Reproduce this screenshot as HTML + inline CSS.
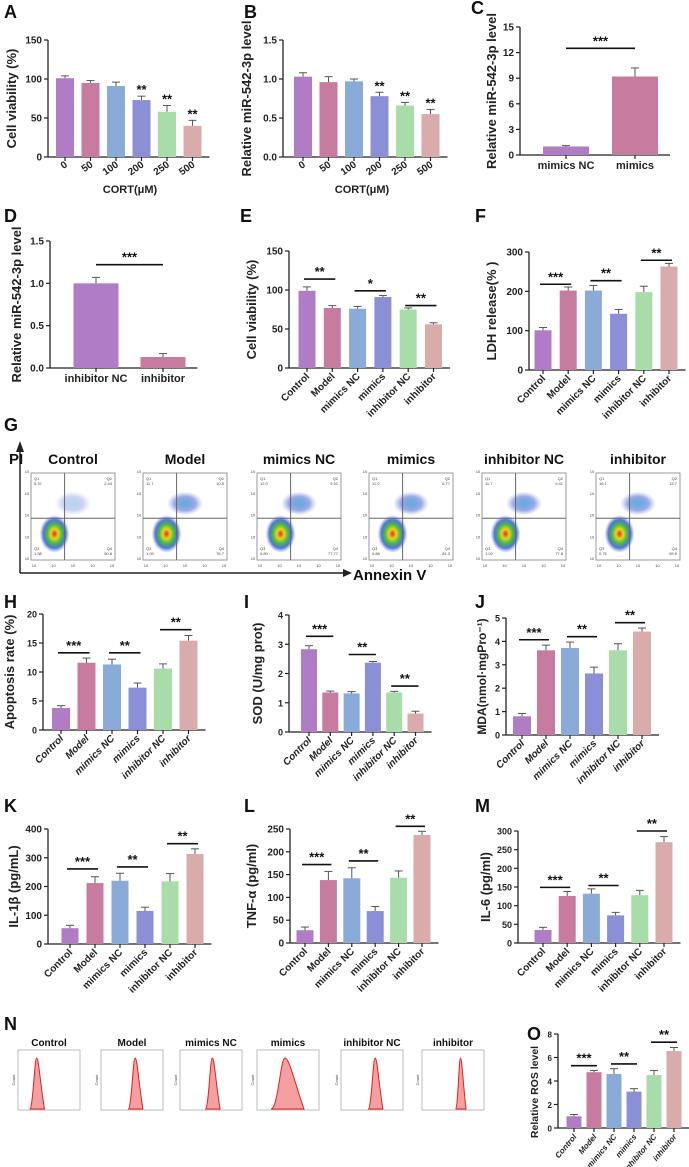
<!DOCTYPE html>
<html><head><meta charset="utf-8"><style>
html,body{margin:0;padding:0;background:#fff;}
svg{display:block;font-family:"Liberation Sans",Arial,sans-serif;}
</style></head><body>
<svg id="fig" width="689" height="1167" viewBox="0 0 689 1167" xmlns="http://www.w3.org/2000/svg"></svg>
<script>
const COLORS = ['#b07cc6','#c77b9e','#8aabd7','#8a8fd6','#a8dca8','#d9abab'];
const groups6 = ['Control','Model','mimics NC','mimics','inhibitor NC','inhibitor'];
const cortCats = ['0','50','100','200','250','500'];
// values
const valA = [101,95,91,73,58,40];   const errA = [3,3,5,5,8,7];
const valB = [1.03,0.96,0.97,0.78,0.66,0.55]; const errB = [0.05,0.07,0.03,0.05,0.04,0.06];
const catC = ['mimics NC','mimics']; const valC = [1.0,9.2]; const errC = [0.1,1.0];
const catD = ['inhibitor NC','inhibitor']; const valD = [1.0,0.13]; const errD = [0.07,0.04];
const valE = [99,77,76,91,75,56]; const errE = [5,3,3,2,2,2];
const valF = [101,202,202,143,198,263]; const errF = [7,9,13,11,15,8];
const valH = [3.8,11.6,11.3,7.3,10.6,15.4]; const errH = [0.4,0.8,0.9,0.8,0.8,0.9];
const valI = [2.83,1.35,1.32,2.37,1.35,0.63]; const errI = [0.12,0.05,0.06,0.04,0.04,0.08];
const valJ = [0.8,3.62,3.72,2.63,3.62,4.42]; const errJ = [0.12,0.22,0.25,0.27,0.28,0.15];
const valK = [55,212,220,115,218,313]; const errK = [10,22,26,13,27,18];
const valL = [28,138,142,70,143,237]; const errL = [7,19,23,10,15,8];
const valM = [35,126,132,74,128,270]; const errM = [7,12,13,8,13,15];
const valO = [1.0,4.75,4.6,3.1,4.5,6.55]; const errO = [0.15,0.15,0.45,0.25,0.4,0.3];
// significance brackets: [from, to, level, label]
const sigE = [[0,1,114,'**'],[2,3,99,'*'],[4,5,80,'**']];
const sigF = [[0,1,218,'***'],[2,3,227,'**'],[4,5,279,'**']];
const sigH = [[0,1,13.3,'***'],[2,3,13.3,'**'],[4,5,17.3,'**']];
const sigI = [[0,1,3.27,'***'],[2,3,2.65,'**'],[4,5,1.57,'**']];
const sigJ = [[0,1,4.07,'***'],[2,3,4.2,'**'],[4,5,4.8,'**']];
const sigK = [[0,1,261,'***'],[2,3,268,'**'],[4,5,349,'**']];
const sigL = [[0,1,172,'***'],[2,3,180,'**'],[4,5,256,'**']];
const sigM = [[0,1,149,'***'],[2,3,154,'**'],[4,5,300,'**']];
const sigO = [[0,1,5.3,'***'],[2,3,5.45,'**'],[4,5,7.3,'**']];
const sigC = [[0,1,12.5,'***']];
const sigD = [[0,1,1.22,'***']];
// flow & histogram data
const flowQ2 = ['2.44','10.5','9.51','6.77','9.41','13.7'];
const flowQ4 = ['90.8','76.7','77.77','81.3','77.8','69.5'];
const flowQ1 = ['5.37','11.7','12.0','11.0','11.7','16.1'];
const flowQ3 = ['1.38','1.09','0.80','0.88','1.02','0.75'];
const histPeak = [0.30,0.55,0.52,0.45,0.55,0.62];
const histWidth = [0.07,0.07,0.07,0.14,0.07,0.05];

const NS='http://www.w3.org/2000/svg';
const svg=document.getElementById('fig');
function el(tag,attrs,parent,text){const e=document.createElementNS(NS,tag);for(const k in attrs)e.setAttribute(k,attrs[k]);if(text!==undefined)e.textContent=text;(parent||svg).appendChild(e);return e;}

function letter(t,x,y){const e=el('text',{x:x,y:y,'font-size':18,'font-weight':'bold',fill:'#111'},svg,t);

}

function chart(o){
  const g=el('g',{});
  
  
  const ys=v=>o.y0-(v/o.max)*(o.y0-o.yT);
  const xs=i=>o.c0+i*o.sp;
  const n=o.vals.length;
  const xEnd=xs(n-1)+o.bw/2+(o.tailPad||8);
  const ya=el('line',{x1:o.ax,y1:o.yT,x2:o.ax,y2:o.y0,stroke:'#222','stroke-width':1.3},g);
  
  
  const xa=el('line',{x1:o.ax,y1:o.y0,x2:xEnd,y2:o.y0,stroke:'#222','stroke-width':1.3},g);
  
  
  for(let t=0;t<=o.max+1e-9;t+=o.step){
    const y=ys(t);
    el('line',{x1:o.ax-4,y1:y,x2:o.ax,y2:y,stroke:'#222','stroke-width':1.2},g);
    const tl=el('text',{x:o.ax-6,y:y+3.5,'font-size':o.tfs||10,'font-weight':'bold','text-anchor':'end',fill:'#222'},g,o.fmt?o.fmt(t):String(t));
    
    
  }
  const my=o.titleY||(o.yT+o.y0)/2;
  const yt=el('text',{x:o.titleX,y:my,'font-size':o.titleFs||13,'font-weight':'bold','text-anchor':'middle',fill:'#222',transform:`rotate(-90 ${o.titleX} ${my})`},g,o.title);
  
  
  for(let i=0;i<n;i++){
    const x=xs(i),v=o.vals[i],e=o.errs[i];
    const b=el('rect',{x:x-o.bw/2,y:ys(v),width:o.bw,height:o.y0-ys(v),fill:o.colors?o.colors[i]:COLORS[i]},g);
    
    
    el('line',{x1:x,y1:ys(v),x2:x,y2:ys(v+e),stroke:'#555','stroke-width':1},g);
    el('line',{x1:x-4,y1:ys(v+e),x2:x+4,y2:ys(v+e),stroke:'#555','stroke-width':1},g);
    el('line',{x1:x,y1:o.y0,x2:x,y2:o.y0+4,stroke:'#222','stroke-width':1.2},g);
    let lab;
    if(o.rot){
      const lx=x+3,ly=o.y0+9;
      lab=el('text',{x:lx,y:ly,'font-size':o.lfs||10,'font-weight':'bold','font-style':o.italic?'italic':'normal','text-anchor':'end',fill:'#222',transform:`rotate(${o.rot} ${lx} ${ly})`},g,o.cats[i]);
    } else {
      lab=el('text',{x:x,y:o.y0+14,'font-size':o.lfs||11,'font-weight':'bold','text-anchor':'middle',fill:'#222'},g,o.cats[i]);
    }
    
    
    if(o.stars&&o.stars[i]){
      const st=el('text',{x:x,y:ys(v+e)-2,'font-size':13,'font-weight':'bold','text-anchor':'middle',fill:'#111'},g,o.stars[i]);
      
      
    }
  }
  (o.sig||[]).forEach(s=>{
    const y=ys(s[2]);
    const x1=xs(s[0])-(o.sigIn||0),x2=xs(s[1])+(o.sigIn||0);
    const ln=el('line',{x1:x1,y1:y,x2:x2,y2:y,stroke:'#111','stroke-width':1.6},g);
    
    
    const st=el('text',{x:(x1+x2)/2,y:y-3,'font-size':13,'font-weight':'bold','text-anchor':'middle',fill:'#111'},g,s[3]);
    
    
  });
  return g;
}
const f1=t=>t.toFixed(1);

letter('A',4,18);
chart({name:'chart-a-cell-viability',ax:48,y0:157,yT:40,max:150,step:50,c0:65,sp:25.5,bw:18,vals:valA,errs:errA,cats:cortCats,rot:-35,title:'Cell viability (%)',titleX:16,stars:['','','','**','**','**'],lfs:10});
const ca=el('text',{x:130,y:193,'font-size':11,'font-weight':'bold','text-anchor':'middle',fill:'#222'},svg,'CORT(μM)');


letter('B',244,18);
chart({name:'chart-b-mir-level',ax:283,y0:157,yT:40,max:1.5,step:0.5,fmt:f1,c0:303,sp:25.5,bw:18,vals:valB,errs:errB,cats:cortCats,rot:-35,title:'Relative miR-542-3p level',titleX:251,stars:['','','','**','**','**']});
const cb=el('text',{x:362,y:193,'font-size':11,'font-weight':'bold','text-anchor':'middle',fill:'#222'},svg,'CORT(μM)');


letter('C',471,14);
chart({name:'chart-c-mimics',ax:520,y0:155,yT:27,max:15,step:3,c0:566,sp:69,bw:46,tailPad:12,vals:valC,errs:errC,cats:catC,title:'Relative miR-542-3p level',titleX:496,sig:sigC});
letter('D',4,222);
chart({name:'chart-d-inhibitor',ax:50,y0:368,yT:241,max:1.5,step:0.5,fmt:f1,c0:96,sp:67,bw:45,tailPad:12,vals:valD,errs:errD,cats:catD,title:'Relative miR-542-3p level',titleX:21,sig:sigD});
letter('E',240,222);
chart({name:'chart-e-cell-viability',ax:289,y0:368,yT:251,max:150,step:50,c0:307,sp:25.3,bw:17,vals:valE,errs:errE,cats:groups6,rot:-45,title:'Cell viability (%)',titleX:256,sig:sigE,sigIn:3});
letter('F',475,222);
chart({name:'chart-f-ldh-release',ax:529,y0:370,yT:252,max:300,step:100,c0:543,sp:25.2,bw:17,vals:valF,errs:errF,cats:groups6,rot:-45,title:'LDH release(% )',titleX:496,sig:sigF,sigIn:3});

// G flow cytometry
letter('G',4,431);
const flowX=[31,143,257,369,482,596];
const fy=473,fw=84,fh=87;
const fg=el('g',{});


el('defs',{},fg).innerHTML='<radialGradient id="dens"><stop offset="0" stop-color="#e03020"/><stop offset="0.25" stop-color="#f0d020"/><stop offset="0.5" stop-color="#40c040"/><stop offset="0.75" stop-color="#3050d0" stop-opacity="0.8"/><stop offset="1" stop-color="#6080e0" stop-opacity="0"/></radialGradient><radialGradient id="dens2"><stop offset="0" stop-color="#30a0d0"/><stop offset="0.6" stop-color="#3050d0" stop-opacity="0.6"/><stop offset="1" stop-color="#6080e0" stop-opacity="0"/></radialGradient>';
flowX.forEach((x,i)=>{
  const t=el('text',{x:x+fw/2,y:fy-9,'font-size':14,'font-weight':'bold','text-anchor':'middle',fill:'#111'},fg,groups6[i]);
  
  
  const b=el('rect',{x:x,y:fy,width:fw,height:fh,fill:'#fff',stroke:'#999','stroke-width':1},fg);
  
  
  const qx=x+fw*0.4,qy=fy+fh*0.52;
  el('ellipse',{cx:x+fw*0.28,cy:fy+fh*0.7,rx:15,ry:19,fill:'url(#dens)'},fg);
  el('ellipse',{cx:x+fw*0.5,cy:fy+fh*0.35,rx:18,ry:12,fill:'url(#dens2)',opacity:i===0?0.4:0.8},fg);
  el('line',{x1:qx,y1:fy,x2:qx,y2:fy+fh,stroke:'#666','stroke-width':1},fg);
  el('line',{x1:x,y1:qy,x2:x+fw,y2:qy,stroke:'#666','stroke-width':1},fg);
  [['Q1\n'+flowQ1[i],x+3,fy+7,'start'],['Q2\n'+flowQ2[i],x+fw-3,fy+7,'end'],['Q3\n'+flowQ3[i],x+3,fy+fh-10,'start'],['Q4\n'+flowQ4[i],x+fw-3,fy+fh-10,'end']].forEach(q=>{
    const p=q[0].split('\n');
    el('text',{x:q[1],y:q[2],'font-size':4,'text-anchor':q[3],fill:'#444'},fg,p[0]);
    el('text',{x:q[1],y:q[2]+5,'font-size':4,'text-anchor':q[3],fill:'#444'},fg,p[1]);
  });
  for(let k=0;k<5;k++){el('text',{x:x+3+k*(fw-6)/4,y:fy+fh+7,'font-size':4,'text-anchor':'middle',fill:'#444'},fg,'10');
    el('text',{x:x-4,y:fy+fh-k*fh/4,'font-size':4,'text-anchor':'middle',fill:'#444'},fg,'10');}
});
el('line',{x1:20,y1:573,x2:20,y2:450,stroke:'#222','stroke-width':1.5},fg);
el('polygon',{points:'16,452 24,452 20,441',fill:'#222'},fg);
el('line',{x1:20,y1:573,x2:345,y2:573,stroke:'#222','stroke-width':1.5},fg);
el('polygon',{points:'343,569 343,577 352,573',fill:'#222'},fg);
const pil=el('text',{x:9,y:464,'font-size':15,'font-weight':'bold',fill:'#111'},fg,'PI');


const anl=el('text',{x:353,y:580,'font-size':15,'font-weight':'bold',fill:'#111'},fg,'Annexin V');



letter('H',4,608);
chart({name:'chart-h-apoptosis-rate',ax:43,y0:730,yT:614,max:20,step:5,c0:61,sp:25.5,bw:18,vals:valH,errs:errH,cats:groups6,rot:-45,italic:true,title:'Apoptosis rate (%)',titleX:14,sig:sigH,sigIn:3,tfs:9});
letter('I',244,608);
chart({name:'chart-i-sod',ax:289,y0:732,yT:615,max:4,step:1,c0:309,sp:21.3,bw:16,vals:valI,errs:errI,cats:groups6,rot:-45,italic:true,title:'SOD (U/mg prot)',titleX:262,sig:sigI,sigIn:3,tfs:9});
letter('J',475,608);
chart({name:'chart-j-mda',ax:506,y0:735,yT:618,max:5,step:1,c0:522,sp:24,bw:18,vals:valJ,errs:errJ,cats:groups6,rot:-45,italic:true,title:'MDA(nmol·mgPro⁻¹)',titleX:486,sig:sigJ,sigIn:3,tfs:9,titleFs:12});

letter('K',4,812);
chart({name:'chart-k-il1b',ax:48,y0:944,yT:829,max:400,step:100,c0:70,sp:25,bw:17,vals:valK,errs:errK,cats:groups6,rot:-45,title:'IL-1β (pg/mL)',titleX:18,sig:sigK,sigIn:3});
letter('L',244,812);
chart({name:'chart-l-tnfa',ax:290,y0:943,yT:829,max:250,step:50,c0:305,sp:23.4,bw:17,vals:valL,errs:errL,cats:groups6,rot:-45,title:'TNF-α (pg/ml)',titleX:256,sig:sigL,sigIn:3});
letter('M',475,812);
chart({name:'chart-m-il6',ax:518,y0:943,yT:831,max:300,step:50,c0:543,sp:24.2,bw:17,vals:valM,errs:errM,cats:groups6,rot:-45,title:'IL-6 (pg/ml)',titleX:490,sig:sigM,sigIn:3,tfs:9});

// N histograms
letter('N',4,1030);
const hx=[18,101,180,257,341,422];
const hy=1050,hw=62,hh=60;
const hg=el('g',{});


hx.forEach((x,i)=>{
  const t=el('text',{x:x+hw/2,y:hy-4,'font-size':10,'font-weight':'bold','text-anchor':'middle',fill:'#111'},hg,groups6[i]);
  
  
  const b=el('rect',{x:x,y:hy,width:hw,height:hh,fill:'#fff',stroke:'#bbb','stroke-width':1},hg);
  
  
  const pk=x+histPeak[i]*hw,w=histWidth[i]*hw,base=hy+hh-1,top=hy+8;
  const d=`M${pk-w*1.6},${base} C${pk-w*0.8},${base} ${pk-w*0.5},${top} ${pk},${top} C${pk+w*0.5},${top} ${pk+w*(i===3?1.0:0.7)},${base-hh*0.5} ${pk+w*(i===3?2.2:1.8)},${base} Z`;
  el('path',{d:d,fill:'#f4a0a0',stroke:'#e02020','stroke-width':1},hg);
  el('text',{x:x-3,y:hy+hh/2,'font-size':4,fill:'#444','text-anchor':'middle',transform:`rotate(-90 ${x-3} ${hy+hh/2})`},hg,'Count');
});

letter('O',527,1040);
chart({name:'chart-o-ros-level',ax:558,y0:1128,yT:1034,max:8,step:2,c0:574,sp:20,bw:15,vals:valO,errs:errO,cats:groups6,rot:-50,italic:true,title:'Relative ROS level',titleX:538,titleY:1092,sig:sigO,sigIn:3,tfs:8,lfs:8,titleFs:10.5});
</script>
</body></html>
